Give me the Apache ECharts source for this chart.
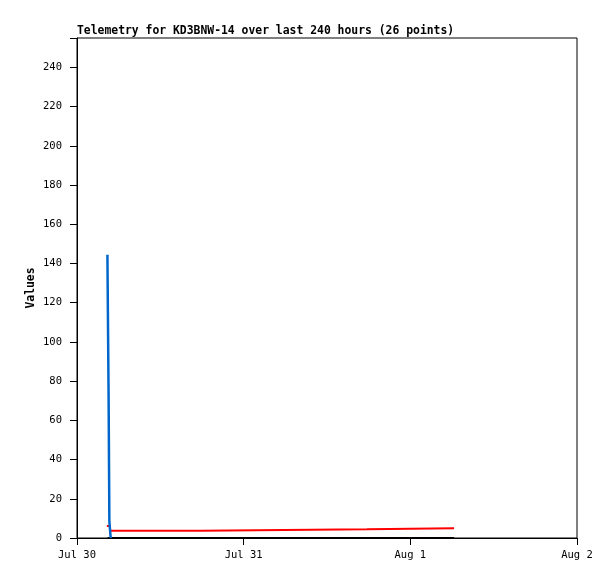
<!DOCTYPE html>
<html>
<head>
<meta charset="utf-8">
<script src="https://cdn.jsdelivr.net/npm/echarts@6/dist/echarts.min.js"></script>
<style>
html,body{margin:0;padding:0;background:#fff;}
#chart{width:615px;height:579px;}
</style>
</head>
<body>
<div id="chart"></div>
<script>
// hours since Jul 30 00:00
var xTickLabels = ['Jul 30', 'Jul 31', 'Aug 1', 'Aug 2'];
var blueHours  = [4.38, 4.55, 4.66, 4.85];
var blueValues = [144.5, 72.5, 8.5, 0];
var redHours   = [4.3, 4.75, 17.85, 41.75, 54.3];
var redValues  = [6.1, 3.7, 4.4, 5.0, 5.0];
var blackHours  = [4.4, 54.3];
var blackValues = [0, 0];

// step-after: hold each value until the next sample time
function stepPairs(xs, ys){
  var out = [];
  for (var i = 0; i < xs.length; i++) {
    if (i > 0) out.push([xs[i], ys[i-1]]);
    out.push([xs[i], ys[i]]);
  }
  return out;
}

var font = 'DejaVu Sans Mono';
var chart = echarts.init(document.getElementById('chart'), null, {renderer:'canvas'});
chart.setOption({
  animation: false,
  backgroundColor: '#fff',
  title: {
    text: 'Telemetry for KD3BNW-14 over last 240 hours (26 points)',
    left: 77, top: 26,
    padding: 0,
    textStyle: {fontFamily: font, fontSize: 11.4, fontWeight: 'bold', color: '#000'}
  },
  grid: {left: 77, top: 38, right: 38, bottom: 41, show: true, borderColor: '#000', borderWidth: 1, backgroundColor: 'transparent'},
  xAxis: {
    type: 'value', min: 0, max: 72, interval: 24,
    axisLine: {lineStyle: {color: '#000', width: 1}},
    axisTick: {length: 7, lineStyle: {color: '#000'}},
    splitLine: {show: false},
    axisLabel: {
      margin: 12, color: '#000', fontFamily: font, fontSize: 10.5,
      formatter: function(v){ return xTickLabels[Math.round(v/24)] || ''; }
    }
  },
  yAxis: {
    type: 'value', min: 0, max: 255, interval: 20,
    name: 'Values', nameLocation: 'middle', nameGap: 40, nameMoveOverlap: false,
    nameTextStyle: {fontFamily: font, fontSize: 11.4, fontWeight: 'bold', color: '#000'},
    axisLine: {show: true, lineStyle: {color: '#000', width: 1}},
    axisTick: {length: 7, lineStyle: {color: '#000'}},
    splitLine: {show: false},
    axisLabel: {
      margin: 15, color: '#000', fontFamily: font, fontSize: 10.5,
      formatter: function(v){ return (v % 20 === 0) ? String(v) : ''; }
    }
  },
  series: [
    {type: 'line', data: stepPairs(redHours, redValues), showSymbol: false, lineStyle: {color: '#ff0000', width: 2}, itemStyle:{color:'#ff0000'}},
    {type: 'line', data: stepPairs(blackHours, blackValues), showSymbol: false, lineStyle: {color: '#000000', width: 2}, itemStyle:{color:'#000'}},
    {type: 'line', data: stepPairs(blueHours, blueValues), showSymbol: false, lineStyle: {color: '#0066cc', width: 2.5}, itemStyle:{color:'#0066cc'}}
  ]
});
</script>
</body>
</html>
